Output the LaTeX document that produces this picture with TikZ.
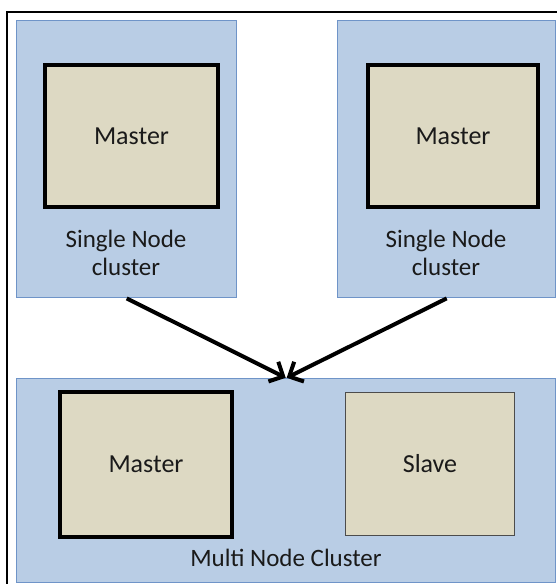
\documentclass[tikz,border=0pt]{standalone}
\usepackage{fontspec}
\setmainfont{Carlito}
\usetikzlibrary{arrows.meta}
\definecolor{clusterfill}{HTML}{B9CDE5}
\definecolor{clusterline}{HTML}{6F94C8}
\definecolor{hostfill}{HTML}{DDD9C3}
\definecolor{labeltext}{HTML}{1A1A1A}
\tikzset{
  cluster/.style={draw=clusterline, fill=clusterfill, line width=1.4pt, inner sep=0pt, anchor=north west},
  master/.style={draw=black, fill=hostfill, line width=4pt, inner sep=0pt, anchor=north west, text=labeltext, font=\fontsize{26}{28}\selectfont},
  slave/.style={draw=black!70, fill=hostfill, line width=1pt, inner sep=0pt, anchor=north west, text=labeltext, font=\fontsize{26}{28}\selectfont},
  caption/.style={text=labeltext, align=center, inner sep=0pt, font=\fontsize{25}{28}\selectfont},
  link/.style={line width=4pt, -{Straight Barb[length=11pt,width=22pt,line width=4pt]}, shorten >=0.5pt},
}
\begin{document}
\begin{tikzpicture}[x=1pt,y=-1pt]
\useasboundingbox (0,0) rectangle (557,584);
\fill[white] (0,0) rectangle (557,584);
% frame around the figure
\draw[line width=2.4pt] (7,584) -- (7,12) -- (557,12);

% two single-node clusters
\node[cluster, minimum width=220pt, minimum height=277pt] (s1) at (16,20) {};
\node[cluster, minimum width=218pt, minimum height=277pt] (s2) at (337,20) {};
\node[master, minimum width=173pt, minimum height=142pt] (m1) at (43,63) {Master};
\node[master, minimum width=170pt, minimum height=142pt] (m2) at (366,63) {Master};
\node[caption] (c1) at (126,253) {Single Node\\cluster};
\node[caption] (c2) at (446,253) {Single Node\\cluster};

% multi-node cluster
\node[cluster, minimum width=539pt, minimum height=204pt] (mc) at (16,378) {};
\node[master, minimum width=172pt, minimum height=145pt] (mm) at (58,390) {Master};
\node[slave, minimum width=169pt, minimum height=143pt] (sl) at (345,392) {Slave};
\node[caption] (c3) at (286,558) {Multi Node Cluster};

% merging arrows
\draw[link] (s1.south) -- (mc.north);
\draw[link] (s2.south) -- (mc.north);
\end{tikzpicture}
\end{document}
